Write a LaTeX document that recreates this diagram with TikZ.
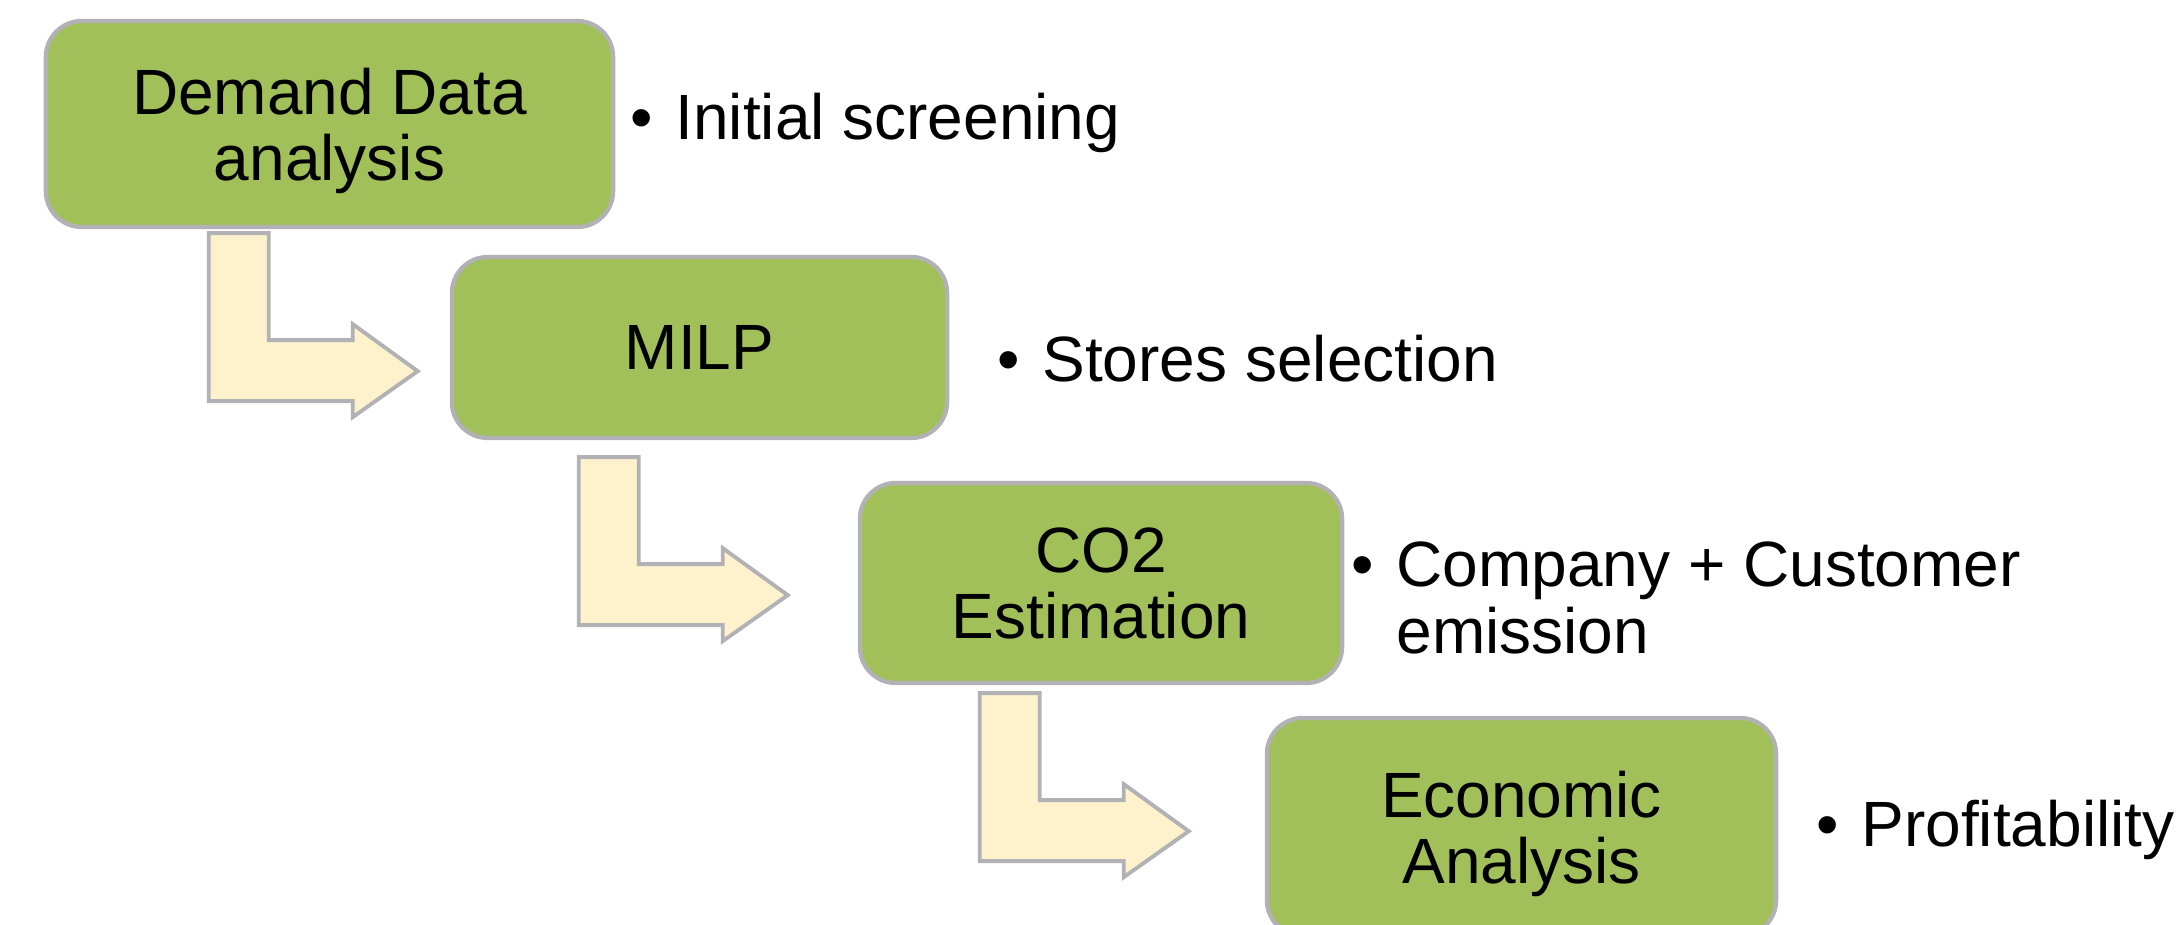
\documentclass[tikz,border=0pt]{standalone}
\usepackage{fontspec}
\setmainfont{Liberation Sans}
\usetikzlibrary{calc}

\definecolor{stepgreen}{RGB}{162,192,90}
\definecolor{edgegray}{RGB}{178,178,182}
\definecolor{arrowcream}{RGB}{254,242,204}
\newcommand\labelfont{\fontsize{18.2}{18.7}\selectfont}

\tikzset{
  stagebox/.style={draw=edgegray, fill=stepgreen, line width=1.2pt,
    rounded corners=0.36cm, inner sep=0pt, align=center,
    text depth=0pt, font=\labelfont},
  bentarrow/.style={draw=edgegray, fill=arrowcream, line width=1.1pt},
  note/.style={anchor=base west, inner sep=0pt, font=\labelfont},
  bentflow/.pic={
    \draw[bentarrow] (0,0) -- (60,0) -- (60,107) -- (144,107) -- (144,91)
      -- (209,138) -- (144,184) -- (144,168) -- (0,168) -- cycle;
  }
}

\begin{document}
\begin{tikzpicture}[x=0.01cm, y=-0.01cm]
  \useasboundingbox (0,0) rectangle (2181,925);

  % process stages
  \node[stagebox, minimum width=5.67cm, minimum height=2.06cm] (demand) at (329.5,124) {Demand Data\\analysis};
  \node[stagebox, minimum width=4.95cm, minimum height=1.81cm] (milp) at (699.5,347.5) {MILP};
  \node[stagebox, minimum width=4.82cm, minimum height=2.00cm] (co2) at (1101,583) {CO2\\Estimation};
  \node[stagebox, minimum width=5.09cm, minimum height=2.18cm] (econ) at (1521.5,827) {Economic\\Analysis};

  % bent arrows leading from each stage to the next
  \coordinate (a1) at ($(demand.south west)+(165,4)$);
  \coordinate (a2) at ($(milp.south west)+(129,17)$);
  \coordinate (a3) at ($(co2.south west)+(122,8)$);
  \pic at (a1) {bentflow};
  \pic at (a2) {bentflow};
  \pic at (a3) {bentflow};

  % bullet notes
  \node[note] (n1) at (630,140) {\begin{tabular}[t]{@{}l@{\hspace{0.35em}}l@{}}•&Initial screening\end{tabular}};
  \node[note] (n2) at (997,382) {\begin{tabular}[t]{@{}l@{\hspace{0.35em}}l@{}}•&Stores selection\end{tabular}};
  \node[note] (n3) at (1351,587) {\begin{tabular}[t]{@{}l@{\hspace{0.35em}}l@{}}•&Company + Customer\\&emission\end{tabular}};
  \node[note] (n4) at (1816,847) {\begin{tabular}[t]{@{}l@{\hspace{0.35em}}l@{}}•&Profitability\end{tabular}};
\end{tikzpicture}
\end{document}
